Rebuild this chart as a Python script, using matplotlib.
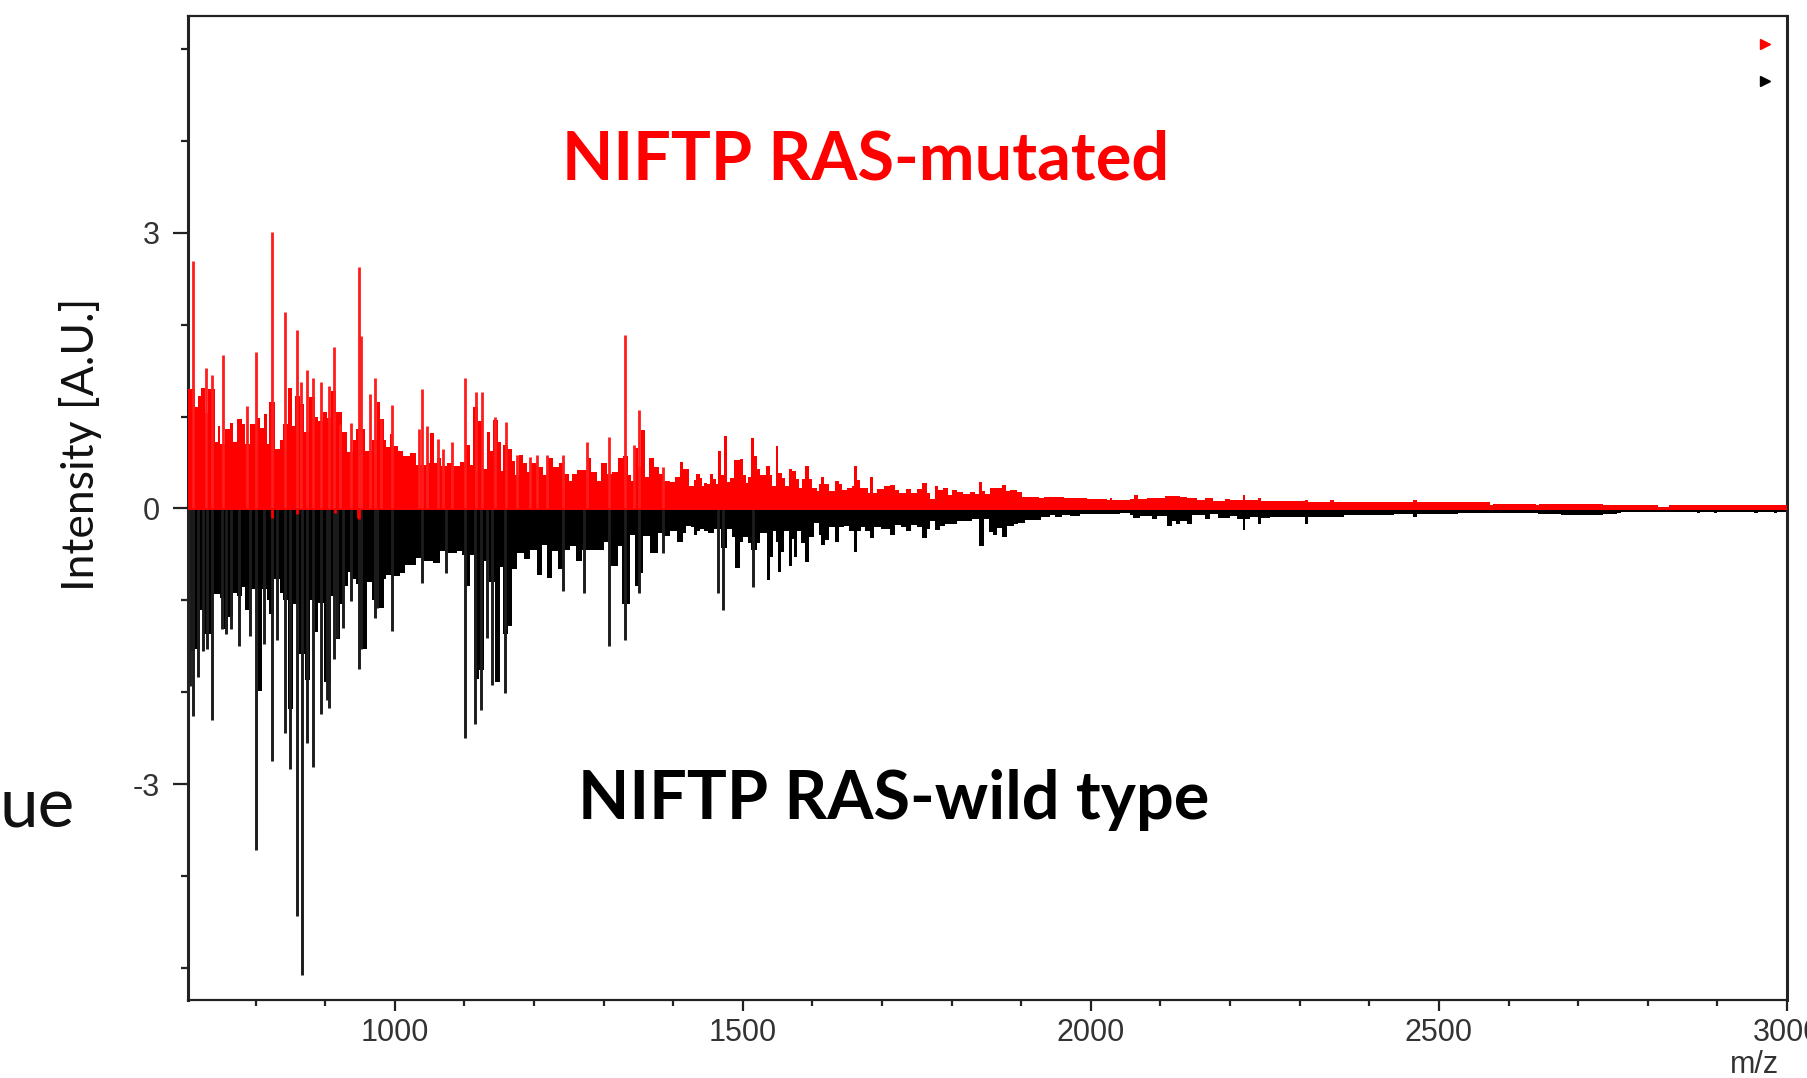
import matplotlib
matplotlib.use('Agg')
import matplotlib.pyplot as plt

# red spectrum outline (m/z, intensity)
red_mz = [703, 713, 718, 722, 727, 732, 742, 746, 749, 756, 763, 768, 773, 780, 785, 792, 802, 807, 812, 816,
          820, 828, 835, 840, 847, 852, 857, 864, 870, 877, 885, 890, 897, 902, 908, 915, 924, 931, 940, 945,
          952, 957, 967, 975, 979, 984, 988, 993, 998, 1005, 1012, 1022, 1030, 1040, 1046, 1050, 1056, 1060, 1066, 1075,
          1084, 1094, 1103, 1108, 1113, 1120, 1127, 1132, 1137, 1141, 1149, 1153, 1156, 1163, 1168, 1173, 1178, 1184, 1190, 1195,
          1205, 1213, 1220, 1228, 1236, 1243, 1250, 1255, 1262, 1270, 1276, 1282, 1290, 1296, 1305, 1312, 1320, 1328, 1335, 1340,
          1345, 1350, 1354, 1360, 1365, 1372, 1380, 1386,
          1396, 1403, 1410, 1414, 1422, 1430, 1433, 1438, 1441, 1444, 1449, 1453, 1457, 1461, 1464, 1468, 1473, 1477, 1482, 1487,
          1496, 1500, 1504, 1508, 1512, 1516, 1520, 1525, 1533, 1539, 1542, 1547, 1550, 1556, 1561, 1566, 1571, 1576, 1580, 1585,
          1590, 1595, 1600, 1607, 1609, 1613, 1617, 1624, 1632, 1638, 1643, 1650, 1657, 1660, 1664, 1669, 1680, 1683, 1687, 1693,
          1703, 1712, 1719, 1724, 1734, 1741, 1750, 1758, 1765,
          1769, 1776, 1781, 1788, 1795, 1800, 1807, 1817, 1826, 1834, 1839, 1843, 1848, 1855, 1865, 1873, 1878, 1884, 1894, 1901,
          1917, 1925, 1932, 1939, 1949, 1961, 1980, 1994, 2023, 2027, 2031, 2056, 2062, 2068, 2080, 2095, 2107, 2119, 2128, 2138,
          2152, 2164, 2176, 2193, 2200, 2218, 2222, 2240, 2245, 2307, 2312, 2344, 2349, 2463, 2468, 2505, 2574, 2578, 2640, 2644,
          2690, 2730, 2735, 2800, 2815, 2830, 3000]
red_val = [1.30, 1.10, 1.22, 1.31, 1.04, 1.30, .72, .90, .70, .87, .93, .72, .97, .92, .70, .92, .98, .88, 1.03, .70,
           1.16, .65, .74, .92, 1.31, .90, 1.22, 1.14, .83, 1.21, 1.0, .95, 1.05, .98, 1.28, 1.05, .83, .61, .74, .86,
           .86, .63, .74, 1.16, .97, .74, .67, .81, .68, .63, .57, .60, .47, .47, .50, .82, .50, .55, .46, .50,
           .46, .51, .69, .47, 1.10, .95, .43, .83, .63, .96, .72, .41, .69, .65, .52, .36, .58, .50, .40, .50,
           .45, .36, .55, .45, .50, .37, .30, .37, .42, .42, .55, .40, .30, .50, .38, .40, .55, .57, .36, .30,
           .66, .45, .85, .34, .55, .45, .37, .30,
           .29, .34, .51, .43, .24, .31, .37, .33, .24, .28, .27, .37, .32, .27, .62, .36, .79, .29, .33, .53,
           .54, .36, .28, .34, .77, .57, .43, .36, .46, .36, .24, .68, .39, .33, .24, .43, .41, .32, .22, .32,
           .46, .32, .22, .19, .27, .34, .27, .19, .30, .27, .20, .22, .24, .46, .31, .22, .17, .34, .17, .21,
           .24, .25, .20, .17, .21, .17, .21, .28, .17,
           .10, .24, .20, .22, .15, .20, .18, .16, .18, .16, .29, .19, .16, .22, .22, .26, .19, .20, .18, .13,
           .12, .11, .13, .12, .12, .11, .11, .10, .09, .11, .09, .10, .15, .10, .11, .11, .14, .14, .12, .115,
           .09, .11, .08, .10, .09, .15, .09, .11, .08, .09, .07, .09, .07, .09, .07, .07, .035, .05, .035, .05,
           .05, .05, .035, .035, .02, .035, .035]

# red spikes sticking out of the outline
red_peak_mz = [710, 729, 737, 753, 788, 800, 823, 843, 859, 866, 874, 882, 894, 905, 913, 921, 937, 949, 952, 964,
               972, 980, 996, 1035, 1039, 1047, 1062, 1070, 1082, 1101, 1117, 1125, 1144, 1160, 1175, 1194, 1204, 1218, 1241, 1276,
               1308, 1331, 1343, 1351, 1386]
red_peak = [2.69, 1.53, 1.45, 1.67, 1.12, 1.70, 3.01, 2.14, 1.94, 1.38, 1.51, 1.42, 1.38, 1.33, 1.76, .92, .93, 2.63, 1.88, 1.25,
            1.42, .97, 1.13, .87, 1.30, .90, .76, .65, .72, 1.42, 1.27, 1.27, 1.0, .94, .58, .56, .58, .58, .58, .72,
            .78, 1.89, .69, 1.07, .45]

# small red dips under the zero line
red_dip_mz = [823, 859, 914, 947, 949]
red_dip = [-.10, -.06, -.05, -.10, -.12]

# black spectrum outline
black_mz = [703, 713, 720, 725, 737, 739, 749, 754, 761, 768, 773, 780, 785, 790, 797, 804, 809, 816, 820, 827,
            835, 840, 847, 854, 862, 871, 878, 885, 890, 898, 909, 915, 921, 927, 933, 938, 945, 952, 960, 967,
            974, 984, 988, 996, 1007, 1015, 1022, 1030, 1041, 1055, 1065, 1077, 1089, 1096, 1101, 1108, 1114, 1121, 1128, 1136,
            1144, 1151, 1156, 1163, 1168, 1175, 1185, 1194, 1204, 1211, 1219, 1226, 1235, 1241, 1252, 1260, 1269, 1281, 1293, 1300,
            1308, 1320, 1326, 1338, 1345, 1352, 1357, 1367, 1378, 1386,
            1396, 1406, 1414, 1419, 1425, 1430, 1434, 1439, 1444, 1450, 1458, 1468, 1477, 1485, 1489, 1496, 1500, 1507, 1512, 1520,
            1525, 1535, 1539, 1543, 1547, 1551, 1555, 1559, 1566, 1571, 1574, 1578, 1584, 1590, 1595, 1602, 1609, 1613, 1618, 1624,
            1633, 1638, 1645, 1652, 1660, 1664, 1670, 1676, 1683, 1688, 1698, 1711, 1719, 1727, 1734, 1741, 1750, 1758, 1765,
            1769, 1776, 1783, 1791, 1798, 1807, 1817, 1829, 1839, 1846, 1853, 1859, 1865, 1873, 1880, 1889, 1896, 1906, 1917, 1929,
            1941, 1949, 1958, 1970, 1985, 1999, 2028, 2042, 2056, 2061, 2071, 2088, 2095, 2109, 2116, 2122, 2128, 2138, 2145, 2164,
            2171, 2183, 2193, 2200, 2210, 2218, 2222, 2229, 2240, 2245, 2257, 2288, 2307, 2312, 2341, 2363, 2435, 2463, 2468, 2491,
            2527, 2541, 2608, 2642, 2675, 2692, 2714, 2736, 2756, 2761, 2870, 2875, 2895, 2900, 2953, 2958, 2981, 2986, 3000]
black_val = [1.55, 1.53, 1.10, 1.37, 1.37, .93, .97, 1.31, 1.18, .92, .95, .86, 1.10, .88, .88, 1.99, .88, 1.0, 1.15, .77,
             .92, 1.0, 2.18, 1.04, 1.58, 1.87, 1.0, 1.35, 1.03, 1.89, .95, 1.42, 1.04, .84, .69, .77, .82, 1.53, .80, 1.0,
             1.08, .77, .72, .73, .70, .62, .62, .54, .57, .59, .46, .49, .46, .51, .84, .51, 1.86, 1.76, .57, .80,
             1.89, .64, 1.37, 1.28, .66, .49, .55, .45, .72, .40, .76, .46, .66, .45, .41, .57, .45, .45, .45, .37,
             .63, .41, 1.04, .29, .84, .70, .30, .48, .27, .30,
             .24, .36, .27, .19, .20, .29, .24, .22, .25, .27, .22, .43, .22, .31, .65, .36, .31, .38, .45, .38,
             .27, .78, .53, .24, .36, .69, .47, .25, .63, .33, .53, .25, .38, .58, .31, .16, .29, .40, .34, .20,
             .36, .20, .19, .24, .47, .24, .20, .24, .32, .20, .22, .29, .18, .20, .25, .18, .20, .32, .22,
             .14, .23, .19, .17, .17, .14, .14, .11, .41, .12, .26, .29, .21, .31, .19, .17, .16, .13, .13, .09,
             .07, .09, .07, .08, .065, .06, .055, .05, .07, .10, .08, .12, .08, .19, .14, .17, .14, .17, .07, .12,
             .065, .10, .10, .08, .12, .23, .12, .09, .17, .10, .09, .09, .17, .09, .09, .07, .055, .09, .055, .055,
             .045, .05, .05, .06, .07, .07, .07, .06, .05, .035, .05, .035, .05, .035, .05, .035, .05, .035, .035]

black_peak_mz = [706, 710, 718, 725, 730, 737, 752, 757, 765, 776, 792, 800, 812, 823, 831, 843, 850, 859, 867, 874,
                 882, 894, 902, 905, 913, 917, 925, 937, 949, 952, 972, 975, 996, 1039, 1074, 1101, 1116, 1124, 1132, 1140,
                 1159, 1241, 1272, 1308, 1331, 1351, 1386, 1464, 1472, 1515]
black_peak = [1.93, 2.26, 1.83, 1.55, 1.53, 2.30, 1.31, 1.37, 1.31, 1.50, 1.39, 3.72, 1.48, 2.75, 1.43, 2.44, 2.84, 4.44, 5.08, 2.55,
              2.81, 2.24, 2.09, 2.17, 1.64, 1.41, 1.30, 1.01, 1.75, 1.53, 1.19, 1.08, 1.33, .81, .70, 2.50, 2.35, 2.19, 1.41, 1.92,
              2.01, .90, .92, 1.50, 1.43, .92, .48, .92, 1.10, .85]

x_major = [1000, 1500, 2000, 2500, 3000]
x_minor = [800, 900, 1100, 1200, 1300, 1400, 1600, 1700, 1800, 1900, 2100, 2200, 2300, 2400, 2600, 2700, 2800, 2900]
y_major = [-3, 0, 3]
y_minor = [-5, -4, -2, -1, 1, 2, 4, 5]

fig = plt.figure(figsize=(18.08, 10.78), dpi=100)
ax = fig.add_axes([188 / 1808, 1 - 1000 / 1078, (1787 - 188) / 1808, (1000 - 16) / 1078])

# black first, red goes over it
ax.fill_between(black_mz, 0.01, [-v for v in black_val], step='post', color='#000000', lw=0, zorder=2)
ax.vlines(black_peak_mz, 0.01, [-v for v in black_peak], color='#1c1c1c', lw=2.1, zorder=2)
ax.fill_between(red_mz, -0.02, red_val, step='post', color='#ff0000', lw=0, zorder=3)
ax.vlines(red_peak_mz, 0, red_peak, color='#ff1c1c', lw=2.0, zorder=3)
ax.vlines(red_dip_mz, 0, red_dip, color='#ff0000', lw=2.0, zorder=3)

# the two small series markers at the top right
ax.plot([2969], [5.05], marker='>', ms=7, color='#ff0000', ls='none')
ax.plot([2969], [4.65], marker='>', ms=7, color='#000000', ls='none')

ax.set_xlim(703, 3000)
ax.set_ylim(-5.35, 5.36)
ax.set_xticks(x_major)
ax.set_xticks(x_minor, minor=True)
ax.set_yticks(y_major)
ax.set_yticks(y_minor, minor=True)
ax.tick_params(axis='x', which='major', length=8, width=1.6, color='#222222', labelsize=22,
               labelcolor='#333333', pad=5)
ax.tick_params(axis='y', which='major', length=11, width=1.6, color='#222222', labelsize=22,
               labelcolor='#333333', pad=9)
ax.tick_params(axis='x', which='minor', length=4, width=1.6, color='#222222')
ax.tick_params(axis='y', which='minor', length=5, width=1.6, color='#222222')
ax.set_xticklabels([str(v) for v in x_major], family='Liberation Sans')
ax.set_yticklabels([str(v) for v in y_major], family='Liberation Sans')
for side in ['top', 'bottom']:
    ax.spines[side].set_linewidth(1.6)
for side in ['left', 'right']:
    ax.spines[side].set_linewidth(2.2)
for side in ax.spines:
    ax.spines[side].set_color('#222222')

fig.text(1755 / 1808, 1 - 1065 / 1078, 'm/z', family='Liberation Sans', fontsize=22, color='#333333',
         ha='center', va='center')
fig.text(81 / 1808, 1 - 444 / 1078, 'Intensity [A.U.]', family='Lato', fontsize=32, color='#111111',
         rotation=90, ha='center', va='center')
fig.text(866 / 1808, 1 - 160 / 1078, 'NIFTP RAS-mutated', family='Lato', weight='bold', fontsize=48,
         color='#ff0000', ha='center', va='center')
fig.text(894 / 1808, 1 - 800 / 1078, 'NIFTP RAS-wild type', family='Lato', weight='bold', fontsize=48,
         color='#000000', ha='center', va='center')
fig.text(0, 1 - 827 / 1078, 'ue', family='Lato', fontsize=50, color='#111111', ha='left', va='baseline')

fig.savefig('out.png', dpi=100)
